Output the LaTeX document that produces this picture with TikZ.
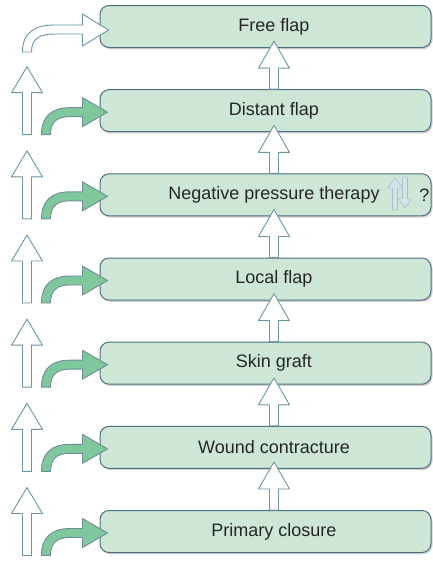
\documentclass[tikz,border=0pt]{standalone}
\usepackage{fontspec}
\setmainfont{Liberation Sans}
\usetikzlibrary{calc,shadows}
\definecolor{boxgreen}{HTML}{CDE6D5}
\definecolor{edgeblue}{HTML}{4E6F80}
\definecolor{arrowgreen}{HTML}{7FC79D}
\definecolor{outlineblue}{HTML}{6D95A3}
\definecolor{npblue}{HTML}{C9DCE4}
\begin{document}
\begin{tikzpicture}[x=1pt, y=-1pt, line join=round,
		stage/.style={draw=edgeblue, line width=1pt, fill=boxgreen, rounded corners=9pt,
			minimum width=331pt, minimum height=42pt, inner sep=0pt,
			drop shadow={shadow xshift=1.5pt, shadow yshift=-1.8pt, opacity=0.35, fill=gray}},
		stagetext/.style={font=\fontsize{18}{20}\selectfont, text=black!85, inner sep=1pt},
		hollow/.style={draw=outlineblue, line width=0.9pt, fill=white},
		turn/.style={draw=edgeblue!80, line width=0.9pt, fill=arrowgreen},
		updown/.style={draw=outlineblue!60, line width=0.6pt, fill=npblue!80}
		]
		\useasboundingbox (0,0) rectangle (433,563);
		% the seven stages, top to bottom
		\foreach \name/\txt [count=\i from 0] in {free/Free flap, distant/Distant flap,
			npt/Negative pressure therapy, local/Local flap, graft/Skin graft,
			contract/Wound contracture, primary/Primary closure}{
			\node[stage] (\name) at ({265.5},{26.5+84.17*\i}) {};
			\node[stagetext] (\name-t) at ({274},{26.5+84.17*\i}) {\txt};
		}
		% hollow arrows up the ladder
		\foreach \lo/\up in {distant/free, npt/distant, local/npt, graft/local,
			contract/graft, primary/contract}{
			\draw[hollow] ($(\lo.north -| \lo-t)+(-4.5,0)$) -- ++(0,-21) -- ++(-11,0)
				-- ++(15.5,-27) -- ++(15.5,27) -- ++(-11,0) -- ++(0,21) -- cycle;
		}
		% left column: up arrows and green bent arrows
		\foreach \name in {distant, npt, local, graft, contract, primary}{
			\draw[hollow, shift={(\name.west)}] (-77,24) -- (-77,-18) -- (-88,-18) -- (-72.5,-44)
				-- (-57,-18) -- (-68,-18) -- (-68,24) -- cycle;
			\draw[turn, shift={(\name.west)}] (-58,24) .. controls (-58,6) and (-48,-3) .. (-30,-3)
				-- (-17,-3) -- (-17,-13) -- (8,1.5) -- (-17,16) -- (-17,6) -- (-30,6)
				.. controls (-42,6) and (-49,11) .. (-49,24) -- cycle;
		}
		\draw[hollow, shift={(free.west)}] (-77,25.5) .. controls (-77,6) and (-65,-1.5) .. (-45,-1.5)
			-- (-17,-1.5) -- (-17,-12.5) -- (9,3.5) -- (-17,19.5) -- (-17,7.5) -- (-45,7.5)
			.. controls (-60,7.5) and (-68,12) .. (-68,25.5) -- cycle;
		% up/down mark
		\draw[updown, shift={(npt.east)}] (-39,15) -- (-39,-7) -- (-44,-7) -- (-36.5,-17)
			-- (-29,-7) -- (-34,-7) -- (-34,15) -- cycle;
		\draw[updown, shift={(npt.east)}] (-29,-18) -- (-29,4) -- (-33,4) -- (-26.5,13)
			-- (-20,4) -- (-24,4) -- (-24,-18) -- cycle;
		\node[stagetext] (npt-q) at ($(npt.east)+(-7,0)$) {?};
\end{tikzpicture}
\end{document}
